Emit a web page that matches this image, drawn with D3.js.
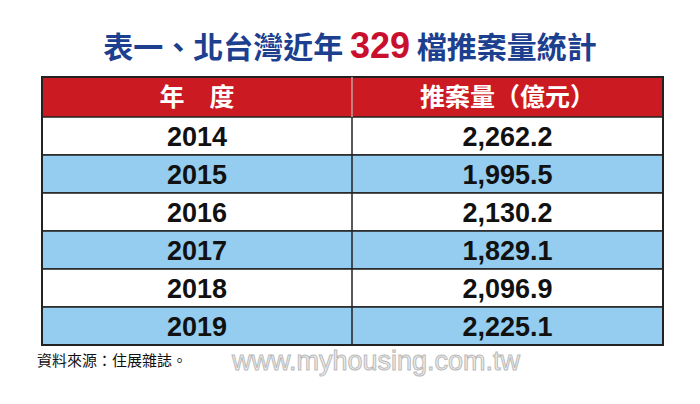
<!DOCTYPE html>
<html><head><meta charset="utf-8">
<script src="https://cdn.jsdelivr.net/npm/d3@7"></script>
<style>body{margin:0;background:#fff}</style>
</head><body><div id="chart"></div>
<script>
const years = ["2014", "2015", "2016", "2017", "2018", "2019"];
const amounts = [2262.2, 1995.5, 2130.2, 1829.1, 2096.9, 2225.1];
const headers = ["年　度", "推案量（億元）"];

const W = 700, H = 404;
const left = 42, right = 663, mid = 352;
const headTop = 77, headBottom = 117, bottom = 345;
const svg = d3.select("#chart").append("svg").attr("width", W).attr("height", H);
const font = "'Noto Sans CJK TC', 'Liberation Sans', sans-serif";

// titulo
const t = svg.append("text").attr("x", 350).attr("y", 58).attr("text-anchor", "middle")
  .style("font-family", font).style("font-weight", "bold").style("font-size", "30px").attr("fill", "#1c3f8f");
t.append("tspan").text("表一、北台灣近年 ");
t.append("tspan").text("329").attr("fill", "#c8102e").style("font-family", "'Liberation Sans Narrow', 'Liberation Sans', sans-serif").style("font-size", "36px");
t.append("tspan").text(" 檔推案量統計");

const y = d3.scaleBand().domain(years).range([headBottom, bottom]);
const fmt = d3.format(",.1f");

svg.append("rect").attr("x", left).attr("y", headTop).attr("width", right - left).attr("height", headBottom - headTop).attr("fill", "#cc1a22");
svg.selectAll(".row").data(years).enter().append("rect")
  .attr("x", left).attr("y", d => y(d)).attr("width", right - left).attr("height", y.bandwidth())
  .attr("fill", (d, i) => i % 2 ? "#94cdf0" : "#fff").attr("stroke", "#222").attr("stroke-width", 1.5);
svg.append("rect").attr("x", left).attr("y", headTop).attr("width", right - left).attr("height", bottom - headTop)
  .attr("fill", "none").attr("stroke", "#222").attr("stroke-width", 2);
svg.append("line").attr("x1", mid).attr("x2", mid).attr("y1", headTop).attr("y2", bottom).attr("stroke", "#222").attr("stroke-width", 1.5);
svg.append("line").attr("x1", mid).attr("x2", mid).attr("y1", headTop).attr("y2", headBottom).attr("stroke", "#e8a0a0").attr("stroke-width", 1.5);

const cx = [(left + mid) / 2, (mid + right) / 2];
svg.selectAll(".hd").data(headers).enter().append("text")
  .attr("x", (d, i) => cx[i]).attr("y", (headTop + headBottom) / 2 + 9).attr("text-anchor", "middle")
  .attr("fill", "#fff").style("font-family", font).style("font-weight", "bold").style("font-size", "25px").text(d => d);

// watermark
svg.append("text").attr("x", 232).attr("y", 370).text("www.myhousing.com.tw")
  .style("font-family", "'Liberation Sans', sans-serif").style("font-size", "27px")
  .attr("fill", "#eee").attr("stroke", "#bbb").attr("stroke-width", 1);

const num = "'Liberation Sans', Arial, sans-serif";
svg.selectAll(".yr").data(years).enter().append("text")
  .attr("x", cx[0]).attr("y", d => y(d) + y.bandwidth() / 2 + 10).attr("text-anchor", "middle")
  .style("font-family", num).style("font-weight", "bold").style("font-size", "27px").attr("fill", "#111").text(d => d);
svg.selectAll(".am").data(amounts).enter().append("text")
  .attr("x", cx[1]).attr("y", (d, i) => y(years[i]) + y.bandwidth() / 2 + 10).attr("text-anchor", "middle")
  .style("font-family", num).style("font-weight", "bold").style("font-size", "27px").attr("fill", "#111").text(d => fmt(d));

svg.append("text").attr("x", 37).attr("y", 366).text("資料來源：住展雜誌。")
  .style("font-family", font).style("font-size", "15px").attr("fill", "#111");
</script></body></html>
